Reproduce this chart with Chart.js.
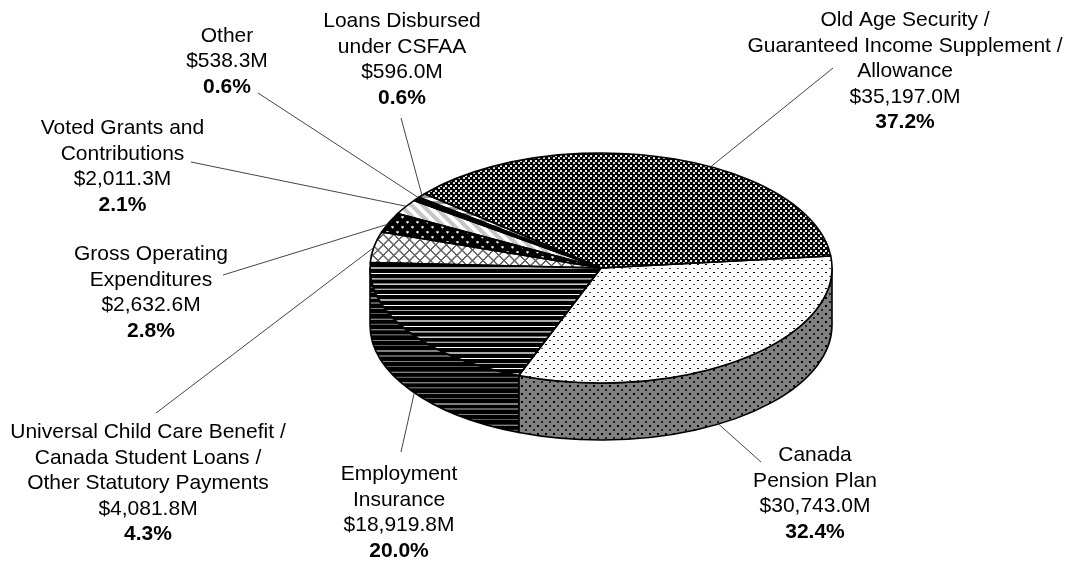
<!DOCTYPE html>
<html>
<head>
<meta charset="utf-8">
<style>html,body{margin:0;padding:0;background:#fff}canvas{display:block}</style>
<script src="https://cdn.jsdelivr.net/npm/chart.js@4/dist/chart.umd.min.js"></script>
</head>
<body>
<canvas id="c" width="1070" height="561"></canvas>
<script>
// ---- data ----
const categories = [
  ["Canada", "Pension Plan"],
  ["Employment", "Insurance"],
  ["Universal Child Care Benefit /", "Canada Student Loans /", "Other Statutory Payments"],
  ["Gross Operating", "Expenditures"],
  ["Voted Grants and", "Contributions"],
  ["Other"],
  ["Loans Disbursed", "under CSFAA"],
  ["Old Age Security /", "Guaranteed Income Supplement /", "Allowance"]
];
const values = [30743.0, 18919.8, 4081.8, 2632.6, 2011.3, 538.3, 596.0, 35197.0];
const valueLabels = ["$30,743.0M", "$18,919.8M", "$4,081.8M", "$2,632.6M", "$2,011.3M", "$538.3M", "$596.0M", "$35,197.0M"];
const percentLabels = ["32.4%", "20.0%", "4.3%", "2.8%", "2.1%", "0.6%", "0.6%", "37.2%"];

// ---- layout (label placement, not data) ----
const labelCenterX = [815, 399, 148, 151, 122.5, 227, 402, 905];
const labelFirstBaseline = [461, 480, 438, 260, 134, 41.5, 27, 26];
const leaderStart = [[761,462],[401,452],[156,413],[223,275],[191,162],[258,93],[401,118],[833,68]];
const leaderFraction = [0.56, 0.46, 0.48, 0.4, 0.55, 0.9, 0.55, 0.584];
const lineStep = 25.6;
const fontSize = 21;
const rx = 231, ry = 115, depth = 57, squash = ry / rx;

// ---- fill patterns ----
function tile(draw) {
  const t = document.createElement('canvas');
  t.width = t.height = 40;
  const g = t.getContext('2d');
  draw(g);
  return t;
}
function rect(g, c, x, y, w, h) { g.fillStyle = c; g.fillRect(x, y, w, h); }
function dot(g, c, x, y, r) { g.fillStyle = c; g.beginPath(); g.arc(x, y, r, 0, 7); g.fill(); }
function diag(g, c, w, dirs) {
  g.strokeStyle = c; g.lineWidth = w;
  for (const d of dirs) for (const o of [-40, 0, 40]) {
    g.beginPath();
    if (d > 0) { g.moveTo(o - 10, -10); g.lineTo(o + 50, 50); }
    else { g.moveTo(o + 50, -10); g.lineTo(o - 10, 50); }
    g.stroke();
  }
}
const dots = (bg, r, c2) => g => { rect(g, bg, 0, 0, 40, 40); dot(g, '#000', 10, 10, r); dot(g, c2, 30, 30, r); };
const stripes = (a, b, wa, wb) => g => { rect(g, '#000', 0, 0, 40, 40); rect(g, a, 0, 2, 40, wa); rect(g, b, 0, 21, 40, wb); };
const tiles = [
  { top: dots('#fff', 3.5, '#555'), side: dots('#808080', 4, '#222'), size: 8 },
  { top: stripes('#fff', '#aaa', 4, 6), side: stripes('#808080', '#5c5c5c', 5, 5), size: 10.6 },
  { top: g => { rect(g, '#fff', 0, 0, 40, 40); diag(g, '#666', 5.5, [1, -1]); }, size: 10.5 },
  { top: g => { rect(g, '#000', 0, 0, 40, 40); for (const [x, y] of [[10, 10], [30, 30]]) { dot(g, '#999', x, y, 6); dot(g, '#fff', x, y, 2.5); } }, size: 10 },
  { top: g => { rect(g, '#fff', 0, 0, 40, 40); diag(g, '#c6c6c6', 14, [1]); }, size: 11 },
  { top: g => rect(g, '#000', 0, 0, 40, 40), size: 10 },
  { top: g => { rect(g, '#fff', 0, 0, 40, 40); rect(g, '#999', 0, 0, 40, 20); }, size: 6 },
  { top: g => { rect(g, '#000', 0, 0, 40, 40); rect(g, '#eee', 3, 3, 15, 15); rect(g, '#eee', 23, 23, 15, 15); }, size: 5 }
];
const ctx = document.getElementById('c').getContext('2d');
function pattern(draw, size, yScale) {
  const p = ctx.createPattern(tile(draw), 'repeat');
  const s = size / 40;
  p.setTransform(new DOMMatrix().scale(s, s * yScale));
  return p;
}
const topFills = tiles.map(t => pattern(t.top, t.size, 1 / squash));
const sideFills = tiles.map(t => pattern(t.side || t.top, t.size, 1));

// ---- 3D pie: squashes the library's arcs, adds the wall, outlines and labels ----
const pie3d = {
  id: 'pie3d',
  beforeDatasetsDraw(chart) {
    const g = chart.ctx;
    const arcs = chart.getDatasetMeta(0).data;
    g.save();
    g.lineWidth = 1.6; g.strokeStyle = '#000'; g.lineJoin = 'round';
    arcs.forEach((a, i) => {
      const s = Math.max(a.startAngle, 0), e = Math.min(a.endAngle, Math.PI);
      if (e <= s) return;
      g.beginPath();
      g.ellipse(a.x, a.y, rx, ry, 0, s, e);
      g.lineTo(a.x + rx * Math.cos(e), a.y + ry * Math.sin(e) + depth);
      g.ellipse(a.x, a.y + depth, rx, ry, 0, e, s, true);
      g.closePath();
      g.fillStyle = sideFills[i];
      g.fill();
      g.stroke();
    });
    g.restore();
    const c = arcs[0];
    g.save();
    g.translate(c.x, c.y); g.scale(1, squash); g.translate(-c.x, -c.y);
  },
  afterDatasetsDraw(chart) {
    const g = chart.ctx;
    g.restore();
    const arcs = chart.getDatasetMeta(0).data;
    g.save();
    g.lineWidth = 1.6; g.strokeStyle = '#000'; g.lineJoin = 'round';
    arcs.forEach(a => {
      g.beginPath();
      g.moveTo(a.x, a.y);
      g.ellipse(a.x, a.y, rx, ry, 0, a.startAngle, a.endAngle);
      g.closePath();
      g.stroke();
    });
    // leader lines
    g.lineWidth = 1; g.strokeStyle = '#444';
    arcs.forEach((a, i) => {
      const t = a.startAngle + (a.endAngle - a.startAngle) * leaderFraction[i];
      const x = a.x + rx * Math.cos(t);
      const y = a.y + ry * Math.sin(t) + (Math.sin(t) > 0 ? depth : 0);
      g.beginPath();
      g.moveTo(leaderStart[i][0], leaderStart[i][1]);
      g.lineTo(x, y);
      g.stroke();
    });
    // labels
    g.fillStyle = '#000'; g.textAlign = 'center'; g.textBaseline = 'alphabetic';
    categories.forEach((lines, i) => {
      let y = labelFirstBaseline[i];
      g.font = fontSize + 'px "Liberation Sans", Arial, sans-serif';
      for (const l of [...lines, valueLabels[i]]) { g.fillText(l, labelCenterX[i], y); y += lineStep; }
      g.font = 'bold ' + fontSize + 'px "Liberation Sans", Arial, sans-serif';
      g.fillText(percentLabels[i], labelCenterX[i], y);
    });
    g.restore();
  }
};

new Chart(ctx, {
  type: 'pie',
  data: {
    labels: categories.map(l => l.join(' ')),
    datasets: [{ data: values, backgroundColor: topFills, borderWidth: 0, hoverOffset: 0 }]
  },
  options: {
    responsive: false,
    animation: false,
    rotation: 84,
    events: [],
    layout: { padding: { left: 370, right: 238, top: 37, bottom: 62 } },
    plugins: { legend: { display: false }, tooltip: { enabled: false }, title: { display: false } }
  },
  plugins: [pie3d]
});
</script>
</body>
</html>
